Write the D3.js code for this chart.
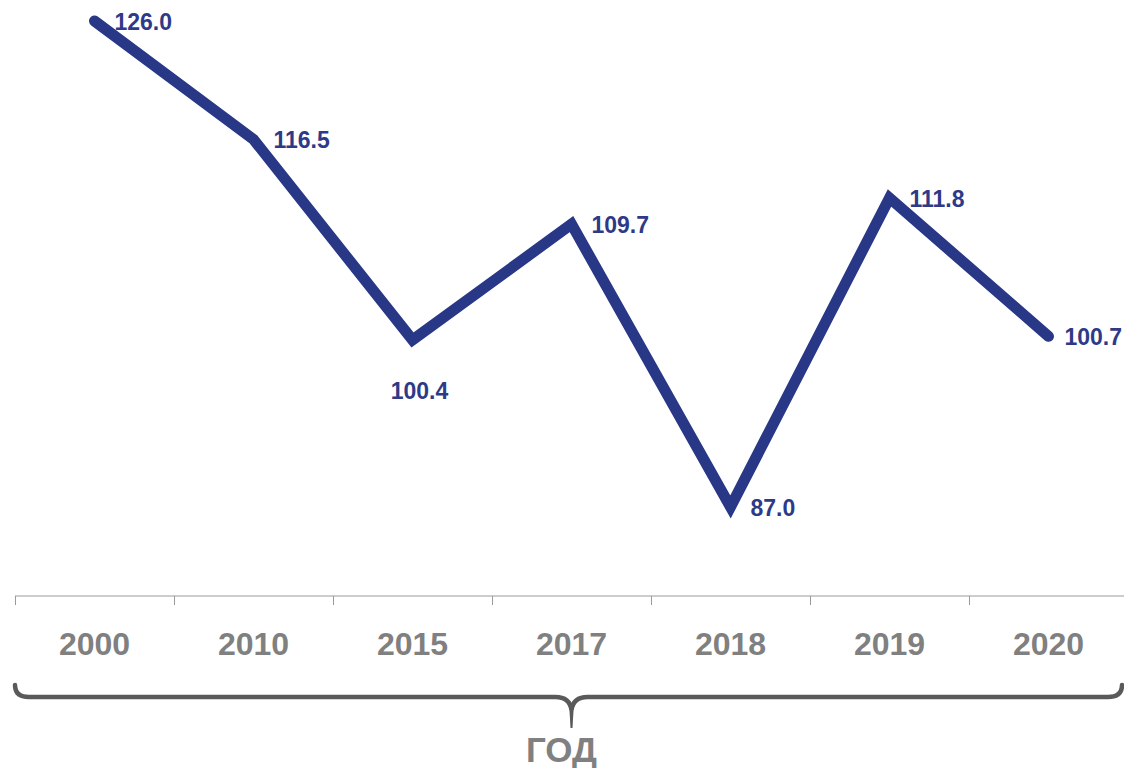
<!DOCTYPE html>
<html>
<head>
<meta charset="utf-8">
<script src="https://cdn.jsdelivr.net/npm/d3@7"></script>
<style>
  body { margin: 0; background: #ffffff; }
  svg { display: block; }
</style>
</head>
<body>
<div id="chart"></div>
<script>
// chart data
var years = ["2000", "2010", "2015", "2017", "2018", "2019", "2020"];
var values = [126.0, 116.5, 100.4, 109.7, 87.0, 111.8, 100.7];
var labelSide = ["right", "right", "below", "right", "right", "right", "right"];
var axisTitle = "ГОД";

var width = 1124, height = 768;
var fontFamily = "'Liberation Sans', Arial, Helvetica, sans-serif";

var svg = d3.select("#chart").append("svg")
  .attr("width", width)
  .attr("height", height);

var x = d3.scaleBand()
  .domain(years)
  .range([15, 1128]);

var y = d3.scaleLinear()
  .domain([87, 126])
  .range([507, 21]);

var axisY = 596;

// axis line + ticks on band edges
svg.append("line")
  .attr("x1", 15).attr("x2", width)
  .attr("y1", axisY).attr("y2", axisY)
  .attr("stroke", "#9a9a9a")
  .attr("stroke-width", 1);

svg.selectAll(".tick")
  .data(years)
  .enter().append("line")
  .attr("class", "tick")
  .attr("x1", function(d) { return Math.round(x(d)) + 0.5; })
  .attr("x2", function(d) { return Math.round(x(d)) + 0.5; })
  .attr("y1", axisY)
  .attr("y2", axisY + 9)
  .attr("stroke", "#9a9a9a")
  .attr("stroke-width", 1);

svg.selectAll(".year")
  .data(years)
  .enter().append("text")
  .attr("class", "year")
  .attr("x", function(d) { return x(d) + x.bandwidth() / 2; })
  .attr("y", 655)
  .attr("text-anchor", "middle")
  .attr("font-family", fontFamily)
  .attr("font-weight", "bold")
  .attr("font-size", 32)
  .attr("fill", "#808080")
  .text(function(d) { return d; });

// brace under axis
var bl = 15, br = 1122, by = 697, mid = x("2017") + x.bandwidth() / 2;
var bracePath = "M" + bl + "," + (by - 12) +
  " Q" + bl + "," + by + " " + (bl + 14) + "," + by +
  " L" + (mid - 16) + "," + by +
  " Q" + (mid - 2) + "," + by + " " + mid + "," + (by + 13) +
  " Q" + (mid + 2) + "," + by + " " + (mid + 16) + "," + by +
  " L" + (br - 14) + "," + by +
  " Q" + br + "," + by + " " + br + "," + (by - 12);
svg.append("path")
  .attr("d", bracePath)
  .attr("fill", "none")
  .attr("stroke", "#5a5a5a")
  .attr("stroke-width", 4.5)
  .attr("stroke-linecap", "round");
svg.append("path")
  .attr("d", "M" + (mid - 2.2) + "," + (by + 10) + " L" + (mid + 2.2) + "," + (by + 10) +
    " L" + (mid + 1) + "," + (by + 31) + " L" + (mid - 1) + "," + (by + 31) + " Z")
  .attr("fill", "#5a5a5a");

svg.append("text")
  .attr("x", mid - 10)
  .attr("y", 762)
  .attr("text-anchor", "middle")
  .attr("font-family", fontFamily)
  .attr("font-weight", "bold")
  .attr("font-size", 35)
  .attr("fill", "#808080")
  .text(axisTitle);

// line
var pts = years.map(function(d, i) {
  return { year: d, value: values[i], side: labelSide[i] };
});

var line = d3.line()
  .x(function(d) { return x(d.year) + x.bandwidth() / 2; })
  .y(function(d) { return y(d.value); });

svg.append("path")
  .datum(pts)
  .attr("d", line)
  .attr("fill", "none")
  .attr("stroke", "#283786")
  .attr("stroke-width", 11)
  .attr("stroke-linecap", "round")
  .attr("stroke-linejoin", "miter");

svg.selectAll(".val")
  .data(pts)
  .enter().append("text")
  .attr("class", "val")
  .attr("x", function(d) {
    var cx = x(d.year) + x.bandwidth() / 2;
    return d.side === "below" ? cx + 7 : cx + 20;
  })
  .attr("y", function(d) {
    return d.side === "below" ? y(d.value) + 59 : y(d.value) + 9;
  })
  .attr("text-anchor", function(d) { return d.side === "below" ? "middle" : "start"; })
  .attr("font-family", fontFamily)
  .attr("font-weight", "bold")
  .attr("font-size", 23)
  .attr("fill", "#2e3a87")
  .text(function(d) { return d.value.toFixed(1); })
  .each(function(d) {
    // keep labels inside the right edge
    if (d.side !== "right") return;
    var w = this.getComputedTextLength();
    var cur = +this.getAttribute("x");
    if (cur + w > width - 2) this.setAttribute("x", width - 2 - w);
  });
</script>
</body>
</html>
